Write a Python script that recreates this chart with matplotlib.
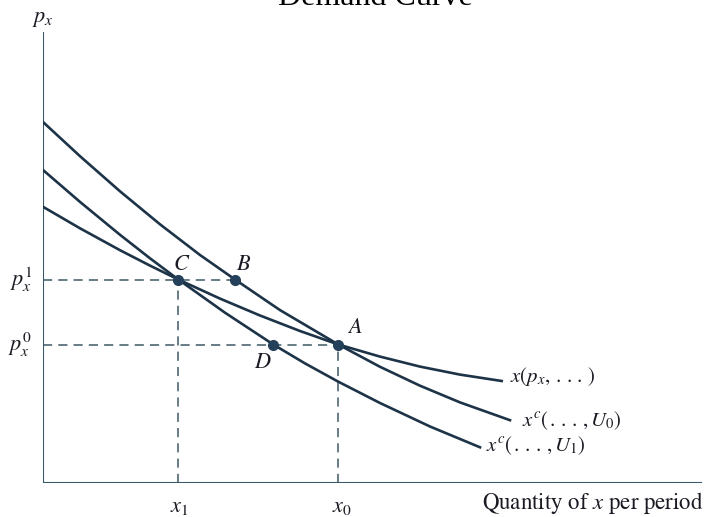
import matplotlib
matplotlib.use("Agg")
import matplotlib.pyplot as plt

plt.rcParams['mathtext.fontset'] = 'stix'
plt.rcParams['font.family'] = ['STIXGeneral', 'DejaVu Serif']

# price levels and quantities
p1 = 203.5
p0 = 138.5
x1 = 135.3
x0 = 295.3

# curves (quantity, price)
u0_x = [0, 37, 77, 117, 157, 192, 237, 295.3, 337, 377, 417, 467]
u0_y = [361, 326.8, 291.7, 258.7, 228, 203.5, 172.9, 138.5, 116.2, 97.3, 80.6, 62.8]

m_x = [0, 37, 77, 107, 135.3, 177, 217, 257, 295.3, 337, 377, 417, 458.7]
m_y = [276.2, 254.7, 232.8, 217.4, 203.5, 184.4, 167.5, 152, 138.5, 126.4, 116.4, 108.4, 102]

u1_x = [0, 37, 77, 107, 135.3, 182, 230.3, 262, 295.3, 337, 387, 437]
u1_y = [313, 281.1, 248.2, 224.7, 203.5, 170.3, 138.5, 119.6, 101.3, 80, 56.5, 35.7]

# marked points
pt_names = ['A', 'B', 'C', 'D']
pt_x = [x0, 192, x1, 230.3]
pt_y = [p0, p1, p1, p0]

curve_col = '#1d3347'
axis_col = '#36566a'
dash_col = '#3f5866'
txt_col = '#1a1a24'

fig = plt.figure(figsize=(7.07, 5.17), dpi=100)
ax = fig.add_axes([43/707, 34/517, 664/707, 483/517])
ax.set_xlim(0, 664)
ax.set_ylim(0, 483)
ax.axis('off')

# axes
ax.plot([0, 0], [0, 451], color=axis_col, lw=1.5, solid_capstyle='butt')
ax.plot([0, 659], [0, 0], color=axis_col, lw=1.5, solid_capstyle='butt')

# dashed guides
dash = dict(color=dash_col, lw=1.1, dashes=(6, 4))
ax.plot([0, 192], [p1, p1], **dash)
ax.plot([0, x0], [p0, p0], **dash)
ax.plot([x1, x1], [0, p1], **dash)
ax.plot([x0, x0], [0, p0], **dash)

# curves
ax.plot(u0_x, u0_y, color=curve_col, lw=1.9)
ax.plot(m_x, m_y, color=curve_col, lw=1.9)
ax.plot(u1_x, u1_y, color=curve_col, lw=1.9)

ax.plot(pt_x, pt_y, 'o', color='#25405a', ms=7, zorder=5)

# point letters
lab_off = {'A': (16.7, 16), 'B': (8.3, 14.5), 'C': (3.4, 14.5), 'D': (-10, -18.8)}
for n, px, py in zip(pt_names, pt_x, pt_y):
    dx, dy = lab_off[n]
    ax.text(px + dx, py + dy, '$' + n + '$', fontsize=16, color=txt_col,
            ha='center', va='center')

# axis labels
ax.text(0, 464, '$p_x$', fontsize=16, color=txt_col, ha='center', va='center')
ax.text(-11, p1, '$p_x^1$', fontsize=16, color=txt_col, ha='right', va='center')
ax.text(-11, p0, '$p_x^0$', fontsize=16, color=txt_col, ha='right', va='center')
ax.text(x1 + 1, -24, '$x_1$', fontsize=16, color=txt_col, ha='center', va='center')
ax.text(x0 + 4, -24, '$x_0$', fontsize=16, color=txt_col, ha='center', va='center')
ax.text(439, -20, 'Quantity of $x$ per period', fontsize=16.5, color=txt_col,
        ha='left', va='center')

# curve labels
ax.text(467, 106, r'$x(p_x,\,.\,.\,.\,)$', fontsize=15, color=txt_col, ha='left', va='center')
ax.text(479, 62, r'$x^c(\,.\,.\,.\,,U_0)$', fontsize=15, color=txt_col, ha='left', va='center')
ax.text(443, 37, r'$x^c(\,.\,.\,.\,,U_1)$', fontsize=15, color=txt_col, ha='left', va='center')

# title, cut off at the top edge in the scan
fig.text(375/707, 1 - 5/517, 'Demand Curve', fontsize=23, color='black',
         ha='center', va='baseline', family='Liberation Serif')

fig.savefig('out.png', dpi=100)
